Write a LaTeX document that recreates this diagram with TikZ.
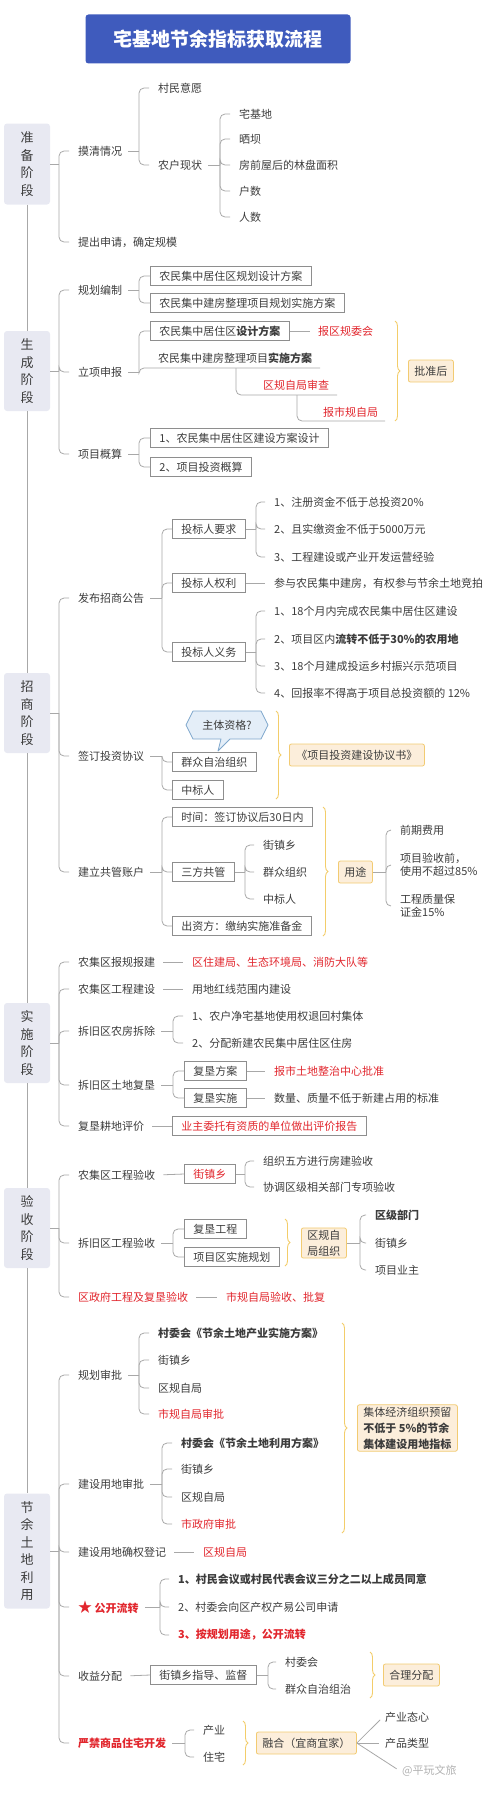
\documentclass[tikz,border=0pt]{standalone}
\usepackage{fontspec}
\setmainfont{Noto Sans CJK SC}
\usetikzlibrary{decorations.pathreplacing}
\definecolor{ink}{HTML}{3C3C3C}
\definecolor{lnc}{HTML}{A8A8A8}
\definecolor{boxc}{HTML}{8E8E8E}
\definecolor{redt}{HTML}{E1262D}
\definecolor{ttl}{HTML}{3F5BBD}
\definecolor{stg}{HTML}{E8E9F2}
\definecolor{org}{HTML}{FCEEDB}
\definecolor{orgb}{HTML}{F2CB72}
\definecolor{brc}{HTML}{F3CD6A}
\definecolor{cfill}{HTML}{E4EEF8}
\definecolor{cline}{HTML}{7EA7CC}
\tikzset{conn/.style = {draw=lnc, line width=0.8pt, rounded corners=5pt},
         tconn/.style = {conn, shorten >=7pt},
         txt/.style = {anchor=west, inner sep=2pt, text=ink,
                       font=\fontsize{11}{13}\selectfont},
         rtxt/.style = {txt, text=redt},
         tbox/.style = {txt, draw=boxc, line width=0.8pt, inner xsep=9pt,
                        minimum height=19pt},
         obox/.style = {txt, draw=orgb, fill=org, line width=0.8pt,
                        rounded corners=2pt, inner xsep=6pt, minimum height=22pt},
         stage/.style = {fill=stg, rounded corners=3pt, text=ink, minimum width=46pt,
                         align=center, font=\fontsize{13}{17.5}\selectfont},
         ybrace/.style = {draw=brc, line width=0.9pt, decorate,
                          decoration={brace, amplitude=5pt}}}

\begin{document}
\begin{tikzpicture}[x=1pt,y=-1pt]
  \useasboundingbox (0,0) rectangle (500,1793);
  \node[fill=ttl, text=white, rounded corners=3pt, minimum width=265pt, minimum height=49pt,
        font=\fontsize{19}{22}\selectfont\bfseries] (title) at (218,39) {宅基地节余指标获取流程};

  % stages
  \node[stage, minimum height=81pt] (s1) at (27,164) {准\\备\\阶\\段};
  \node[stage, minimum height=80pt] (s2) at (27,371) {生\\成\\阶\\段};
  \node[stage, minimum height=80pt] (s3) at (27,713) {招\\商\\阶\\段};
  \node[stage, minimum height=80pt] (s4) at (27,1043) {实\\施\\阶\\段};
  \node[stage, minimum height=80pt] (s5) at (27,1228) {验\\收\\阶\\段};
  \node[stage, minimum height=115pt] (s6) at (27,1551) {节\\余\\土\\地\\利\\用};
  \foreach \a/\b in {s1/s2,s2/s3,s3/s4,s4/s5,s5/s6} \draw[conn] (\a.south) -- (\b.north);

  % bracket columns
  \coordinate (bx59) at (59,0);
  \coordinate (bx139) at (139,0);
  \coordinate (bx160) at (160,0);
  \coordinate (bx162) at (162,0);
  \coordinate (bx173) at (173,0);
  \coordinate (bx185) at (185,0);
  \coordinate (bx220) at (220,0);
  \coordinate (bx245) at (245,0);
  \coordinate (bx256) at (256,0);
  \coordinate (bx268) at (268,0);
  \coordinate (bx360) at (360,0);
  \coordinate (bx386) at (386,0);

  % 准备阶段
  \node[txt] (mqqk) at (76,151) {摸清情况};
  \node[txt] (tcsq) at (76,242) {提出申请，确定规模};
  \node[txt] (cmyy) at (156,88) {村民意愿};
  \node[txt] (nhxz) at (156,165) {农户现状};
  \node[txt] (zjd) at (237,114) {宅基地};
  \node[txt] (sb) at (237,139) {晒坝};
  \node[txt] (lpmj) at (237,165) {房前屋后的林盘面积};
  \node[txt] (hs) at (237,191) {户数};
  \node[txt] (rs) at (237,217) {人数};
  \draw[conn] (s1.east) -- (s1.east -| bx59);
  \foreach \c in {mqqk,tcsq} \draw[tconn] (s1.east -| bx59) |- (\c.west);
  \draw[conn, shorten <=4pt] (mqqk.east) -- (mqqk.east -| bx139);
  \foreach \c in {cmyy,nhxz} \draw[tconn] (mqqk.east -| bx139) |- (\c.west);
  \draw[conn, shorten <=4pt] (nhxz.east) -- (nhxz.east -| bx220);
  \foreach \c in {zjd,sb,lpmj,hs,rs} \draw[tconn] (nhxz.east -| bx220) |- (\c.west);

  % 生成阶段
  \node[txt] (ghbz) at (76,290) {规划编制};
  \node[txt] (lxsb) at (76,372) {立项申报};
  \node[txt] (xmgs) at (76,454) {项目概算};
  \node[tbox] (ghfa) at (150,276) {农民集中居住区规划设计方案};
  \node[tbox] (ssgh) at (150,303) {农民集中建房整理项目规划实施方案};
  \node[tbox] (sjfa) at (150,331) {农民集中居住区\textbf{设计方案}};
  \node[txt] (ssfa) at (156,358) {农民集中建房整理项目\textbf{实施方案}};
  \node[rtxt] (bqgw) at (316,331) {报区规委会};
  \node[rtxt] (qgsc) at (261,385) {区规自局审查};
  \node[rtxt] (bsgz) at (321,412) {报市规自局};
  \coordinate (ssend) at (320,368);
  \coordinate (scj) at (236,368);
  \coordinate (scend) at (337,395);
  \coordinate (sgj) at (297,395);
  \coordinate (sgend) at (385,421);
  \draw[ybrace] (395,321) -- (395,421);
  \node[obox] (pzh) at (408,371) {批准后};
  \node[tbox] (jsfa) at (150,438) {1、农民集中居住区建设方案设计};
  \node[tbox] (tzgs) at (150,467) {2、项目投资概算};
  \draw[conn] (s2.east) -- (s2.east -| bx59);
  \foreach \c in {ghbz,lxsb,xmgs} \draw[tconn] (s2.east -| bx59) |- (\c.west);
  \draw[conn, shorten <=4pt] (ghbz.east) -- (ghbz.east -| bx139);
  \foreach \c in {ghfa,ssgh} \draw[conn] (ghbz.east -| bx139) |- (\c.west);
  \draw[conn, shorten <=4pt] (lxsb.east) -- (lxsb.east -| bx139);
  \draw[conn] (lxsb.east -| bx139) |- (sjfa.west);
  \draw[conn] (lxsb.east -| bx139) |- (ssend);
  \draw[conn] (scj) |- (scend);
  \draw[conn] (sgj) |- (sgend);
  \draw[conn, shorten >=6pt] (sjfa.east) -- (bqgw.west);
  \draw[conn, shorten <=4pt] (xmgs.east) -- (xmgs.east -| bx139);
  \foreach \c in {jsfa,tzgs} \draw[conn] (xmgs.east -| bx139) |- (\c.west);

  % 招商阶段
  \node[txt] (fbgg) at (76,598) {发布招商公告};
  \node[txt] (qdxy) at (76,756) {签订投资协议};
  \node[txt] (gzzh) at (76,872) {建立共管账户};
  \node[tbox] (yq) at (172,529) {投标人要求};
  \node[tbox] (ql) at (172,583) {投标人权利};
  \node[tbox] (yw) at (172,652) {投标人义务};
  \node[txt] (yq1) at (272,502) {1、注册资金不低于总投资20\%};
  \node[txt] (yq2) at (272,529) {2、且实缴资金不低于5000万元};
  \node[txt] (yq3) at (272,557) {3、工程建设或产业开发运营经验};
  \node[txt] (ql1) at (272,583) {参与农民集中建房，有权参与节余土地竞拍};
  \node[txt] (yw1) at (272,611) {1、18个月内完成农民集中居住区建设};
  \node[txt] (yw2) at (272,639) {2、项目区内\textbf{流转不低于30\%的农用地}};
  \node[txt] (yw3) at (272,666) {3、18个月建成投运乡村振兴示范项目};
  \node[txt] (yw4) at (272,693) {4、回报率不得高于项目总投资额的 12\%};
  \draw[conn] (s3.east) -- (s3.east -| bx59);
  \foreach \c in {fbgg,qdxy,gzzh} \draw[tconn] (s3.east -| bx59) |- (\c.west);
  \draw[conn, shorten <=4pt] (fbgg.east) -- (fbgg.east -| bx162);
  \foreach \c in {yq,ql,yw} \draw[conn] (fbgg.east -| bx162) |- (\c.west);
  \draw[conn] (yq.east) -- (yq.east -| bx256);
  \foreach \c in {yq1,yq2,yq3} \draw[tconn] (yq.east -| bx256) |- (\c.west);
  \draw[conn, shorten >=7pt] (ql.east) -- (ql1.west);
  \draw[conn] (yw.east) -- (yw.east -| bx256);
  \foreach \c in {yw1,yw2,yw3,yw4} \draw[tconn] (yw.east -| bx256) |- (\c.west);

  \filldraw[fill=cfill, draw=cline, line width=0.8pt, line join=round]
    (186,725) -- (193,711) -- (261,711) -- (268,725) -- (261,739) -- (230,739)
    -- (218,751) -- (221,739) -- (193,739) -- cycle;
  \node[txt, anchor=center] (ztzg) at (227,725) {主体资格?};
  \node[tbox] (qzzz) at (172,762) {群众自治组织};
  \node[tbox] (zbr) at (172,790) {中标人};
  \draw[ybrace] (276,711) -- (276,799);
  \node[obox, minimum width=135pt] (xys) at (289,755) {《项目投资建设协议书》};
  \draw[conn, shorten <=4pt] (qdxy.east) -- (qdxy.east -| bx162);
  \foreach \c in {qzzz,zbr} \draw[conn] (qdxy.east -| bx162) |- (\c.west);

  \node[tbox] (sj) at (172,817) {时间：签订协议后30日内};
  \node[tbox] (sfgg) at (172,872) {三方共管};
  \node[tbox] (czf) at (172,926) {出资方：缴纳实施准备金};
  \node[txt] (jzx1) at (261,845) {街镇乡};
  \node[txt] (qzzz2) at (261,872) {群众组织};
  \node[txt] (zbr2) at (261,899) {中标人};
  \draw[ybrace] (323,807) -- (323,936);
  \node[obox] (yt) at (338,872) {用途};
  \node[txt] (qqfy) at (398,830) {前期费用};
  \node[txt, align=left] (ysq) at (398,865) {项目验收前，\\使用不超过85\%};
  \node[txt, align=left] (zlbz) at (398,906) {工程质量保\\证金15\%};
  \draw[conn, shorten <=4pt] (gzzh.east) -- (gzzh.east -| bx162);
  \foreach \c in {sj,sfgg,czf} \draw[conn] (gzzh.east -| bx162) |- (\c.west);
  \draw[conn] (sfgg.east) -- (sfgg.east -| bx245);
  \foreach \c in {jzx1,qzzz2,zbr2} \draw[tconn] (sfgg.east -| bx245) |- (\c.west);
  \draw[conn] (yt.east) -- (yt.east -| bx386);
  \foreach \c in {qqfy,ysq,zlbz} \draw[tconn] (yt.east -| bx386) |- (\c.west);

  % 实施阶段
  \node[txt] (bgbj) at (76,962) {农集区报规报建};
  \node[txt] (gcjs) at (76,989) {农集区工程建设};
  \node[txt] (fwcc) at (76,1031) {拆旧区农房拆除};
  \node[txt] (tdfk) at (76,1085) {拆旧区土地复垦};
  \node[txt] (gdpj) at (76,1126) {复垦耕地评价};
  \node[rtxt] (zjj) at (190,962) {区住建局、生态环境局、消防大队等};
  \node[txt] (hxjs) at (190,989) {用地红线范围内建设};
  \node[txt] (cc1) at (190,1016) {1、农户净宅基地使用权退回村集体};
  \node[txt] (cc2) at (190,1043) {2、分配新建农民集中居住区住房};
  \node[tbox] (fkfa) at (184,1071) {复垦方案};
  \node[tbox] (fkss) at (184,1098) {复垦实施};
  \node[rtxt] (tdzz) at (272,1071) {报市土地整治中心批准};
  \node[txt] (bzss) at (272,1098) {数量、质量不低于新建占用的标准};
  \node[tbox, text=redt] (pjbg) at (172,1126) {业主委托有资质的单位做出评价报告};
  \draw[conn] (s4.east) -- (s4.east -| bx59);
  \foreach \c in {bgbj,gcjs,fwcc,tdfk,gdpj} \draw[tconn] (s4.east -| bx59) |- (\c.west);
  \draw[conn, shorten <=6pt, shorten >=7pt] (bgbj.east) -- (zjj.west);
  \draw[conn, shorten <=6pt, shorten >=7pt] (gcjs.east) -- (hxjs.west);
  \draw[conn, shorten <=4pt] (fwcc.east) -- (fwcc.east -| bx173);
  \foreach \c in {cc1,cc2} \draw[tconn] (fwcc.east -| bx173) |- (\c.west);
  \draw[conn, shorten <=4pt] (tdfk.east) -- (tdfk.east -| bx173);
  \foreach \c in {fkfa,fkss} \draw[conn] (tdfk.east -| bx173) |- (\c.west);
  \draw[conn, shorten >=7pt] (fkfa.east) -- (tdzz.west);
  \draw[conn, shorten >=7pt] (fkss.east) -- (bzss.west);
  \draw[conn, shorten <=6pt] (gdpj.east) -- (pjbg.west);

  % 验收阶段
  \node[txt] (njys) at (76,1175) {农集区工程验收};
  \node[txt] (cjys) at (76,1243) {拆旧区工程验收};
  \node[rtxt] (zfys) at (76,1297) {区政府工程及复垦验收};
  \node[tbox, text=redt] (jzx2) at (184,1174) {街镇乡};
  \node[txt] (wfys) at (261,1161) {组织五方进行房建验收};
  \node[txt] (zxys) at (261,1187) {协调区级相关部门专项验收};
  \node[tbox] (fkgc) at (184,1229) {复垦工程};
  \node[tbox] (ssgh2) at (184,1257) {项目区实施规划};
  \draw[ybrace] (285,1219) -- (285,1266);
  \node[obox, align=center, font=\fontsize{11}{16}\selectfont] (qgzz) at (301,1243) {区规自\\局组织};
  \node[txt, font=\fontsize{11}{13}\selectfont\bfseries] (qjbm) at (373,1215) {区级部门};
  \node[txt] (jzx3) at (373,1243) {街镇乡};
  \node[txt] (xmyz) at (373,1270) {项目业主};
  \node[rtxt] (sgys) at (224,1297) {市规自局验收、批复};
  \draw[conn] (s5.east) -- (s5.east -| bx59);
  \foreach \c in {njys,cjys,zfys} \draw[tconn] (s5.east -| bx59) |- (\c.west);
  \draw[conn, shorten <=6pt] (njys.east) -- (jzx2.west);
  \draw[conn] (jzx2.east) -- (jzx2.east -| bx245);
  \foreach \c in {wfys,zxys} \draw[tconn] (jzx2.east -| bx245) |- (\c.west);
  \draw[conn, shorten <=4pt] (cjys.east) -- (cjys.east -| bx173);
  \foreach \c in {fkgc,ssgh2} \draw[conn] (cjys.east -| bx173) |- (\c.west);
  \draw[conn] (qgzz.east) -- (qgzz.east -| bx360);
  \foreach \c in {qjbm,jzx3,xmyz} \draw[tconn] (qgzz.east -| bx360) |- (\c.west);
  \draw[conn, shorten <=6pt, shorten >=7pt] (zfys.east) -- (sgys.west);

  % 节余土地利用
  \node[txt] (ghsp) at (76,1375) {规划审批};
  \node[txt] (jssp) at (76,1484) {建设用地审批};
  \node[txt] (qqdj) at (76,1552) {建设用地确权登记};
  \node[rtxt, font=\fontsize{11}{13}\selectfont\bfseries] (gklz) at (76,1607) {{\fontsize{14}{14}\selectfont ★} 公开流转};
  \node[txt] (syfp) at (76,1676) {收益分配};
  \node[rtxt, font=\fontsize{11}{13}\selectfont\bfseries] (yjkf) at (76,1743) {严禁商品住宅开发};
  \node[txt, font=\fontsize{11}{13}\selectfont\bfseries] (cyfa) at (156,1333) {村委会《节余土地产业实施方案》};
  \node[txt] (jzx4) at (156,1360) {街镇乡};
  \node[txt] (qgzj1) at (156,1388) {区规自局};
  \node[rtxt] (sgsp) at (156,1414) {市规自局审批};
  \node[txt, font=\fontsize{11}{13}\selectfont\bfseries] (lyfa) at (179,1443) {村委会《节余土地利用方案》};
  \node[txt] (jzx5) at (179,1469) {街镇乡};
  \node[txt] (qgzj2) at (179,1497) {区规自局};
  \node[rtxt] (zfsp) at (179,1524) {市政府审批};
  \draw[ybrace] (342,1323) -- (342,1533);
  \node[obox, align=left, font=\fontsize{11}{16}\selectfont] (ylzb) at (357,1428)
    {集体经济组织预留\\\textbf{不低于 5\%的节余}\\\textbf{集体建设用地指标}};
  \node[rtxt] (qgzj3) at (201,1552) {区规自局};
  \node[txt, font=\fontsize{11}{13}\selectfont\bfseries] (lz1) at (176,1579) {1、村民会议或村民代表会议三分之二以上成员同意};
  \node[txt] (lz2) at (176,1607) {2、村委会向区产权产易公司申请};
  \node[rtxt, font=\fontsize{11}{13}\selectfont\bfseries] (lz3) at (176,1635) {3、按规划用途，公开流转};
  \node[tbox] (jzdd) at (150,1675) {街镇乡指导、监督};
  \node[txt] (cwh) at (283,1662) {村委会};
  \node[txt] (qzzz3) at (283,1689) {群众自治组治};
  \draw[ybrace] (370,1652) -- (370,1698);
  \node[obox] (hlfp) at (383,1675) {合理分配};
  \node[txt] (cy) at (201,1730) {产业};
  \node[txt] (zz) at (201,1757) {住宅};
  \draw[ybrace] (243,1721) -- (243,1765);
  \node[obox] (rh) at (256,1743) {融合（宜商宜家）};
  \node[txt] (cytx) at (383,1717) {产业态心};
  \node[txt] (cplx) at (383,1743) {产品类型};
  \node[txt, text=black!30] (wm) at (400,1771) {@平玩文旅};
  \draw[conn] (s6.east) -- (s6.east -| bx59);
  \foreach \c in {ghsp,jssp,qqdj,gklz,syfp,yjkf} \draw[tconn] (s6.east -| bx59) |- (\c.west);
  \draw[conn, shorten <=4pt] (ghsp.east) -- (ghsp.east -| bx139);
  \foreach \c in {cyfa,jzx4,qgzj1,sgsp} \draw[tconn] (ghsp.east -| bx139) |- (\c.west);
  \draw[conn, shorten <=4pt] (jssp.east) -- (jssp.east -| bx162);
  \foreach \c in {lyfa,jzx5,qgzj2,zfsp} \draw[tconn] (jssp.east -| bx162) |- (\c.west);
  \draw[conn, shorten <=6pt, shorten >=7pt] (qqdj.east) -- (qgzj3.west);
  \draw[conn, shorten <=4pt] (gklz.east) -- (gklz.east -| bx160);
  \foreach \c in {lz1,lz2,lz3} \draw[tconn] (gklz.east -| bx160) |- (\c.west);
  \draw[conn, shorten <=6pt] (syfp.east) -- (jzdd.west);
  \draw[conn] (jzdd.east) -- (jzdd.east -| bx268);
  \foreach \c in {cwh,qzzz3} \draw[tconn] (jzdd.east -| bx268) |- (\c.west);
  \draw[conn, shorten <=4pt] (yjkf.east) -- (yjkf.east -| bx185);
  \foreach \c in {cy,zz} \draw[tconn] (yjkf.east -| bx185) |- (\c.west);
  \foreach \c in {cytx,cplx,wm} \draw[conn, shorten >=4pt] (rh.east) -- (\c.west);
\end{tikzpicture}
\end{document}
